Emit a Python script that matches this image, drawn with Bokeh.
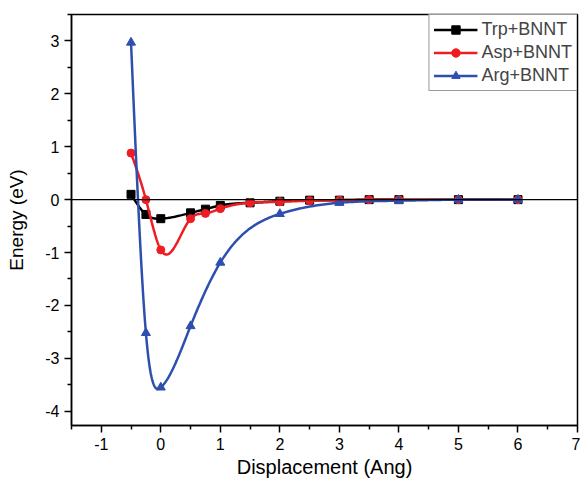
import numpy as np
from bokeh.plotting import figure
from bokeh.models import Span, Legend, LegendItem, FixedTicker, Range1d
from bokeh.embed import file_html
from bokeh.resources import INLINE

# ---- data ----
trp_x = [-0.5, -0.25, 0.0, 0.5, 0.75, 1.0, 1.5, 2.0, 2.5, 3.0, 3.5, 4.0, 5.0, 6.0]
trp_y = [0.10, -0.28, -0.36, -0.25, -0.18, -0.11, -0.06, -0.03, -0.01, -0.01, 0.0, 0.0, 0.0, 0.0]

asp_x = [-0.5, -0.25, 0.0, 0.5, 0.75, 1.0, 1.5, 2.0, 2.5, 3.0, 3.5, 4.0, 5.0, 6.0]
asp_y = [0.88, 0.0, -0.95, -0.36, -0.26, -0.17, -0.06, -0.04, -0.02, -0.01, 0.0, 0.0, 0.0, 0.0]

arg_x = [-0.5, -0.25, 0.0, 0.5, 1.0, 2.0, 3.0, 4.0, 5.0, 6.0]
arg_y = [2.97, -2.52, -3.55, -2.39, -1.19, -0.27, -0.06, -0.02, 0.0, 0.0]

x_ticks = [-1, 0, 1, 2, 3, 4, 5, 6, 7]
y_ticks = [-4, -3, -2, -1, 0, 1, 2, 3]

names = ["Trp+BNNT", "Asp+BNNT", "Arg+BNNT"]
colors = ["#000000", "#ee1d23", "#2f4fae"]
markers = ["square", "circle", "triangle"]
msizes = [8, 8, 9]


def natural_spline(x, y, per_seg=30):
    """Smooth rendering line through the data points (natural cubic spline)."""
    x = np.asarray(x, float)
    y = np.asarray(y, float)
    n = len(x)
    h = np.diff(x)
    A = np.zeros((n, n))
    b = np.zeros(n)
    A[0, 0] = 1
    A[-1, -1] = 1
    for i in range(1, n - 1):
        A[i, i - 1] = h[i - 1]
        A[i, i] = 2 * (h[i - 1] + h[i])
        A[i, i + 1] = h[i]
        b[i] = 6 * ((y[i + 1] - y[i]) / h[i] - (y[i] - y[i - 1]) / h[i - 1])
    M = np.linalg.solve(A, b)
    xs, ys = [], []
    for i in range(n - 1):
        t = np.linspace(x[i], x[i + 1], per_seg, endpoint=(i == n - 2))
        a = x[i + 1] - t
        c = t - x[i]
        s = (M[i] * a ** 3 + M[i + 1] * c ** 3) / (6 * h[i]) \
            + (y[i] / h[i] - M[i] * h[i] / 6) * a \
            + (y[i + 1] / h[i] - M[i + 1] * h[i] / 6) * c
        xs.extend(t)
        ys.extend(s)
    return xs, ys


FONT = "Liberation Sans"

p = figure(width=580, height=480, output_backend="svg", toolbar_location=None,
           x_range=Range1d(-1.5, 7), y_range=Range1d(-4.27, 3.5),
           min_border_left=71, min_border_top=14, min_border_right=3, min_border_bottom=53)

p.xgrid.visible = False
p.ygrid.visible = False
p.outline_line_color = "black"
p.outline_line_width = 1.5

p.add_layout(Span(location=0, dimension="width", line_color="black", line_width=1.2))

items = []
for xs_, ys_, name, col, mk, ms in zip([trp_x, asp_x, arg_x], [trp_y, asp_y, arg_y],
                                        names, colors, markers, msizes):
    sx, sy = natural_spline(xs_, ys_)
    r1 = p.line(sx, sy, line_color=col, line_width=2.5)
    r2 = p.scatter(xs_, ys_, marker=mk, size=ms, fill_color=col, line_color=col)
    items.append(LegendItem(label=name, renderers=[r1, r2]))

legend = Legend(items=items, location="top_right", margin=0, padding=4, spacing=2,
                glyph_width=44, glyph_height=21, label_height=21, label_standoff=4,
                label_text_font=FONT, label_text_font_size="18px",
                border_line_color="#333333", border_line_width=1,
                background_fill_alpha=1)
p.add_layout(legend)

p.xaxis.ticker = FixedTicker(ticks=x_ticks, minor_ticks=[v + 0.5 for v in [-2] + x_ticks])
p.yaxis.ticker = FixedTicker(ticks=y_ticks, minor_ticks=[v + 0.5 for v in [-5] + y_ticks])
p.xaxis.major_label_overrides = {float(v): str(v) for v in x_ticks}
p.yaxis.major_label_overrides = {float(v): str(v) for v in y_ticks}

for ax in (p.xaxis[0], p.yaxis[0]):
    ax.axis_line_color = "black"
    ax.axis_line_width = 1.5
    ax.major_tick_line_color = "black"
    ax.minor_tick_line_color = "black"
    ax.major_tick_line_width = 1.5
    ax.minor_tick_line_width = 1.5
    ax.major_tick_out = 7
    ax.major_tick_in = 0
    ax.minor_tick_out = 4
    ax.minor_tick_in = 0
    ax.major_label_text_font = FONT
    ax.major_label_text_font_size = "16px"
    ax.major_label_text_color = "black"
    ax.major_label_standoff = 5
    ax.axis_label_text_font = FONT
    ax.axis_label_text_font_style = "normal"
    ax.axis_label_text_color = "black"

p.xaxis.axis_label = "Displacement (Ang)"
p.xaxis.axis_label_text_font_size = "20px"
p.xaxis.axis_label_standoff = 3
p.yaxis.axis_label = "Energy (eV)"
p.yaxis.axis_label_text_font_size = "19px"
p.yaxis.axis_label_standoff = 15

open("out.html", "w").write(file_html(p, INLINE))
